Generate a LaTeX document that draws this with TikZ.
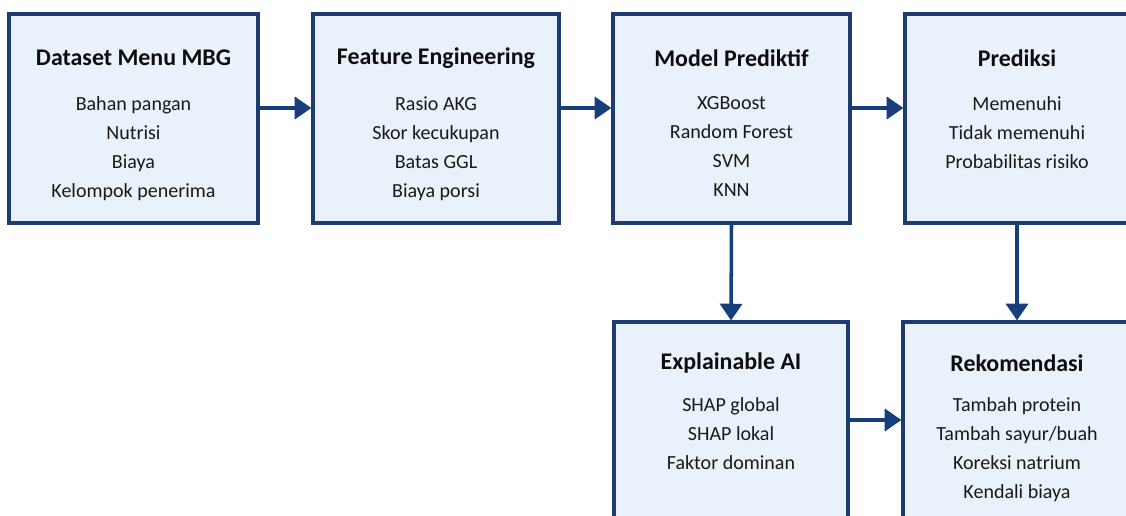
\documentclass[tikz,border=0pt]{standalone}
\usepackage{fontspec}
\setmainfont{Carlito}
\usepackage{tikz}
\usetikzlibrary{arrows.meta}
\definecolor{boxline}{HTML}{1E3C72}
\definecolor{boxfill}{HTML}{E9F1FA}
\definecolor{arrowcol}{HTML}{173E7C}

\begin{document}
\begin{tikzpicture}
\tikzset{stage/.style = {shape=rectangle,draw=boxline,fill=boxfill,line width=1.8pt,minimum height=4.18cm}}
\tikzset{head/.style = {font=\bfseries\fontsize{13.6}{16}\selectfont,text=black!95}}
\tikzset{items/.style = {anchor=north,align=center,inner sep=0pt,font=\fontsize{11.4}{16.5}\selectfont,text=black!90}}
\tikzset{edge/.style = {->,> = {Triangle[length=9.5pt,width=12.5pt]},line width=2pt,draw=arrowcol}}
\useasboundingbox (0,0) rectangle (22.52,-10.3);
% boxes
\node[stage,minimum width=4.98cm] (data) at (2.67,-2.37)  {};
\node[stage,minimum width=4.92cm] (feat) at (8.72,-2.37)  {};
\node[stage,minimum width=4.74cm] (model) at (14.63,-2.37) {};
\node[stage,minimum width=4.48cm] (pred) at (20.34,-2.37) {};
\node[stage,minimum width=4.68cm] (xai) at (14.62,-8.53) {};
\node[stage,minimum width=4.56cm] (rec) at (20.34,-8.53) {};
% titles
\node[head] (data-t)  at (2.67,-1.16)  {Dataset Menu MBG};
\node[head] (feat-t)  at (8.72,-1.16)  {Feature Engineering};
\node[head] (model-t) at (14.63,-1.16) {Model Prediktif};
\node[head] (pred-t)  at (20.34,-1.16) {Prediksi};
\node[head] (xai-t)   at (14.62,-7.26) {Explainable AI};
\node[head] (rec-t)   at (20.34,-7.26) {Rekomendasi};
% contents
\node[items] (data-i)  at (2.67,-1.92)  {Bahan pangan\\Nutrisi\\Biaya\\Kelompok penerima};
\node[items] (feat-i)  at (8.72,-1.92)  {Rasio AKG\\Skor kecukupan\\Batas GGL\\Biaya porsi};
\node[items] (model-i) at (14.63,-1.92) {XGBoost\\Random Forest\\SVM\\KNN};
\node[items] (pred-i)  at (20.34,-1.92) {Memenuhi\\Tidak memenuhi\\Probabilitas risiko};
\node[items] (xai-i)   at (14.62,-7.94) {SHAP global\\SHAP lokal\\Faktor dominan};
\node[items] (rec-i)   at (20.34,-7.94) {Tambah protein\\Tambah sayur/buah\\Koreksi natrium\\Kendali biaya};
% edges
\draw[edge] ([yshift=0.21cm]data.east) -- ([yshift=0.21cm]feat.west);
\draw[edge] ([yshift=0.21cm]feat.east) -- ([yshift=0.21cm]model.west);
\draw[edge] ([yshift=0.21cm]model.east) -- ([yshift=0.21cm]pred.west);
\draw[edge] (model.south) -- (xai.north);
\draw[edge] (pred.south) -- (rec.north);
\draw[edge] ([yshift=0.13cm]xai.east) -- ([yshift=0.13cm]rec.west);
\end{tikzpicture}
\end{document}
